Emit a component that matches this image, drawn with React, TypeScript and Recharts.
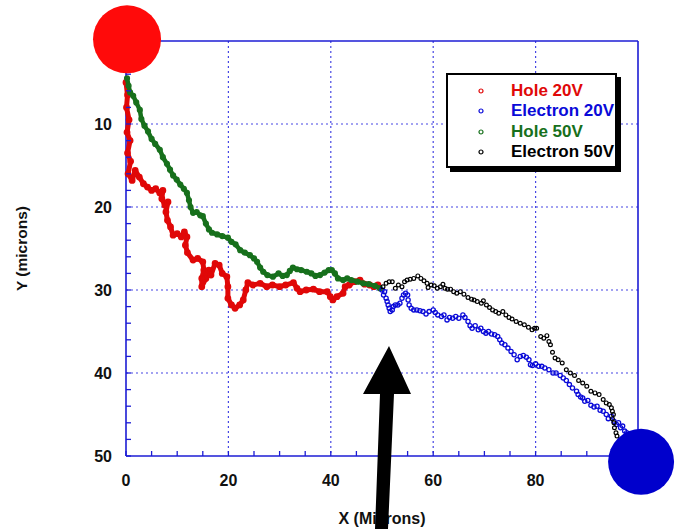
import React from 'react';
import { ScatterChart, Scatter, XAxis, YAxis, CartesianGrid, Label } from 'recharts';

const FONT = '"Liberation Sans", Arial, Helvetica, sans-serif';
const AXIS_BLUE = '#1c1cd4';
const GRID_BLUE = '#4646e4';
const TICK_LEN = 5;

// Axis ticks (minor + major) and labelled values
const xTicks = [0, 5, 10, 15, 20, 25, 30, 35, 40, 45, 50, 55, 60, 65, 70, 75, 80, 85, 90, 95, 100];
const yTicks = [0, 2, 4, 6, 8, 10, 12, 14, 16, 18, 20, 22, 24, 26, 28, 30, 32, 34, 36, 38, 40, 42, 44, 46, 48, 50];
const xLabelTicks = [0, 20, 40, 60, 80];
const yLabelTicks = [10, 20, 30, 40, 50];
const xGridValues = [20, 40, 60, 80];
const yGridValues = [10, 20, 30, 40];
const X_DOMAIN: [number, number] = [0, 100];
const Y_DOMAIN: [number, number] = [0, 50];

// Drift paths, [x, y] in microns
const hole20V: [number, number][] = [
  [0, 5], [0.3, 6.5], [0.1, 8], [0.6, 9.5], [0.2, 11], [0.8, 12], [0.3, 13.5], [0.9, 14.5], [0.4, 16],
  [1.2, 16.8], [1.8, 15.6], [2.6, 16.4], [3.4, 17.2], [4.2, 17.6], [5.0, 18.0], [5.8, 17.8], [6.6, 18.3],
  [7.2, 18.0], [7.0, 19.0], [7.6, 19.8], [8.2, 19.4], [7.8, 20.6], [8.1, 21.6], [8.7, 22.4], [9.2, 23.4],
  [10.0, 23.2], [10.8, 23.6], [11.4, 23.0], [11.9, 23.6], [11.6, 24.6], [12.0, 25.5], [13.1, 26.4],
  [14.0, 26.2], [15.0, 26.6], [15.2, 27.6], [14.8, 28.6], [14.8, 29.6], [15.6, 28.6], [16.2, 27.6],
  [16.6, 28.2], [17.4, 26.8], [18.2, 27.0], [18.8, 28.0], [19.7, 28.4], [19.9, 29.6], [19.9, 31.0],
  [20.6, 31.8], [21.3, 32.2], [22.2, 31.8], [22.9, 31.2], [23.4, 30.0], [23.8, 29.1], [24.8, 29.4],
  [26.2, 29.2], [27.5, 29.6], [28.6, 29.4], [30.0, 29.6], [31.2, 29.4], [32.7, 29.1], [33.4, 29.8],
  [34.0, 30.2], [35.2, 30.0], [36.6, 29.9], [37.8, 30.2], [39.3, 30.2], [39.9, 30.8], [40.4, 31.2],
  [41.2, 30.8], [42.4, 30.4], [42.8, 29.6], [43.6, 29.4], [44.6, 29.0], [45.7, 28.8], [46.6, 29.3],
  [47.6, 29.4], [48.4, 29.6], [49.2, 29.4],
];

const hole50V: [number, number][] = [
  [0.2, 4.5], [0.5, 5.4], [0.8, 6.2], [1.4, 6.6], [2.0, 7.4], [2.7, 8.3], [3.0, 9.4], [3.6, 10.2],
  [4.3, 10.9], [5.0, 11.8], [5.7, 12.4], [6.6, 13.1], [7.2, 14.0], [8.0, 14.8], [8.6, 15.5], [9.2, 16.2],
  [9.9, 16.7], [10.6, 17.3], [11.3, 17.8], [11.9, 18.3], [12.3, 19.2], [12.6, 20.0], [13.1, 20.7],
  [13.8, 20.6], [14.5, 21.0], [15.0, 21.1], [15.6, 22.0], [16.2, 22.7], [16.8, 23.1], [17.8, 23.3],
  [18.8, 23.5], [19.9, 23.7], [20.6, 24.2], [21.4, 24.5], [22.3, 25.2], [23.2, 25.5], [24.2, 25.8],
  [25.0, 26.2], [25.6, 26.6], [26.2, 27.3], [26.8, 27.8], [27.6, 28.2], [28.7, 28.4], [29.8, 28.0],
  [30.6, 28.3], [31.4, 28.2], [32.0, 27.7], [32.6, 27.3], [33.4, 27.5], [34.2, 27.6], [35.3, 27.8],
  [36.2, 28.0], [37.0, 28.3], [37.9, 28.2], [38.8, 27.9], [39.6, 27.6], [40.2, 27.6], [40.8, 28.0],
  [41.4, 28.6], [42.4, 28.8], [43.2, 28.6], [44.0, 28.8], [45.2, 29.0], [46.3, 29.2], [47.4, 29.3],
  [48.6, 29.5], [49.6, 29.8],
];

const electron20V: [number, number][] = [
  [50.0, 30.0], [50.3, 30.6], [50.5, 30.2], [50.8, 31.0], [51.0, 31.4], [51.2, 31.8], [51.4, 32.2],
  [51.6, 32.6], [52.0, 32.4], [52.2, 32.0], [52.6, 31.8], [53.1, 31.8], [53.5, 31.6], [53.9, 31.0],
  [54.2, 30.6], [54.6, 30.4], [55.0, 30.6], [55.1, 31.2], [55.3, 31.8], [55.7, 32.2], [56.2, 32.4],
  [56.8, 32.4], [57.4, 32.5], [58.0, 32.6], [58.6, 32.9], [59.2, 32.6], [60.0, 32.4], [60.4, 32.7],
  [60.9, 33.0], [61.6, 33.2], [62.1, 33.0], [62.7, 33.6], [63.2, 33.3], [63.8, 33.4], [64.4, 33.2],
  [65.0, 33.4], [65.8, 33.0], [66.2, 33.3], [66.8, 33.8], [67.2, 34.3], [67.6, 34.6], [68.2, 34.3],
  [68.8, 34.8], [69.3, 34.6], [69.8, 35.0], [70.3, 35.2], [70.8, 35.0], [71.4, 35.3], [72.0, 35.4],
  [72.6, 35.6], [73.0, 36.0], [73.4, 36.4], [74.0, 36.6], [74.6, 37.0], [75.2, 37.4], [75.8, 37.8],
  [76.4, 38.4], [77.0, 38.0], [77.6, 37.9], [78.2, 38.1], [78.7, 38.4], [79.0, 39.0], [79.4, 39.1],
  [80.0, 38.9], [80.6, 39.2], [81.2, 39.2], [81.8, 39.4], [82.6, 39.6], [83.4, 40.0], [84.0, 40.0],
  [84.8, 40.3], [85.4, 40.6], [86.0, 40.9], [86.6, 41.4], [87.2, 41.8], [88.0, 42.2], [88.3, 42.6],
  [88.8, 42.9], [89.2, 43.0], [89.6, 43.4], [90.2, 43.3], [90.8, 43.9], [91.4, 44.1], [92.0, 44.0],
  [92.6, 44.5], [93.2, 44.6], [93.8, 45.0], [94.2, 45.5], [94.8, 45.2], [95.3, 45.8], [95.8, 46.2],
  [96.2, 46.0], [96.6, 46.6], [97.0, 46.4], [97.4, 47.0], [97.8, 47.2],
];

const electron50V: [number, number][] = [
  [50.2, 29.6], [50.8, 29.2], [51.4, 29.0], [52.0, 29.0], [52.6, 29.8], [53.2, 29.4], [53.9, 29.6],
  [54.4, 29.0], [54.9, 28.8], [55.5, 28.7], [56.2, 28.6], [57.0, 28.3], [57.6, 28.6], [58.2, 28.9],
  [58.8, 29.2], [59.0, 29.7], [59.6, 29.4], [60.2, 29.5], [60.8, 29.8], [61.4, 29.6], [61.9, 29.3],
  [62.3, 29.8], [62.8, 29.9], [63.4, 29.9], [64.0, 30.2], [64.6, 30.4], [65.3, 30.2], [66.0, 30.5],
  [66.8, 30.9], [67.5, 31.1], [68.0, 31.2], [68.6, 31.4], [69.4, 31.6], [69.8, 31.3], [70.4, 31.8],
  [71.0, 32.1], [71.6, 32.4], [72.2, 32.6], [72.8, 32.8], [73.6, 32.6], [74.2, 33.0], [74.8, 33.3],
  [75.4, 33.5], [76.2, 33.8], [77.0, 34.0], [77.8, 34.2], [78.6, 34.5], [79.3, 34.8], [79.8, 34.6],
  [80.2, 34.6], [81.0, 35.6], [81.6, 35.8], [82.2, 35.5], [82.6, 36.2], [82.9, 36.6], [83.3, 37.5],
  [83.8, 38.2], [84.4, 38.4], [85.2, 38.8], [86.0, 39.6], [86.8, 40.0], [87.6, 40.3], [88.4, 40.9],
  [89.2, 41.2], [90.0, 41.6], [90.8, 42.2], [91.6, 42.4], [92.4, 42.6], [93.2, 43.2], [93.8, 43.6],
  [94.4, 43.8], [94.8, 44.2], [95.0, 44.6], [95.2, 45.0], [95.0, 45.5], [95.3, 46.0], [95.4, 46.6],
  [95.7, 47.2], [95.9, 47.6],
];

// Electrodes drawn as large discs: x, y (microns), radius (px), colour
const electrodeX = [0.2, 100.6];
const electrodeY = [-0.2, 50.7];
const electrodeR = [34, 33];
const electrodeColor = ['#ff0a0a', '#0000cc'];

const seriesNames = ['Hole 20V', 'Electron 20V', 'Hole 50V', 'Electron 50V'];
const seriesColors = ['#e00808', '#0a0ad8', '#17701c', '#000000'];

// Canvas and plot frame
const CHART_W = 675;
const CHART_H = 529;
const PLOT = { left: 126, top: 41, right: 638, bottom: 456 };
const Y_AXIS_W = 60;
const X_AXIS_H = 30;

// The disc layer spans the whole canvas, so its domains are the plot domains stretched to the canvas edges
const pxPerX = (PLOT.right - PLOT.left) / (X_DOMAIN[1] - X_DOMAIN[0]);
const pxPerY = (PLOT.bottom - PLOT.top) / (Y_DOMAIN[1] - Y_DOMAIN[0]);
const fullXDomain: [number, number] = [X_DOMAIN[0] - PLOT.left / pxPerX, X_DOMAIN[0] + (CHART_W - PLOT.left) / pxPerX];
const fullYDomain: [number, number] = [Y_DOMAIN[0] - PLOT.top / pxPerY, Y_DOMAIN[0] + (CHART_H - PLOT.top) / pxPerY];

const toPoints = (arr: [number, number][]) => arr.map(([x, y]) => ({ x, y }));
const electrodePoints = electrodeX.map((x, i) => ({ x, y: electrodeY[i], r: electrodeR[i], c: electrodeColor[i] }));

const BottomTick = (props: any) => {
  const { x, y, payload } = props;
  const v = payload.value;
  return (
    <g>
      <line x1={x} y1={y} x2={x} y2={y - TICK_LEN} stroke={AXIS_BLUE} strokeWidth={1.3} />
      {xLabelTicks.includes(v) && (
        <text x={x} y={y + 30} textAnchor="middle" fontFamily={FONT} fontWeight="bold" fontSize={16} fill="#111">
          {v}
        </text>
      )}
    </g>
  );
};

const TopTick = (props: any) => {
  const { x, y } = props;
  return <line x1={x} y1={y} x2={x} y2={y + TICK_LEN} stroke={AXIS_BLUE} strokeWidth={1.3} />;
};

const LeftTick = (props: any) => {
  const { x, y, payload } = props;
  const v = payload.value;
  return (
    <g>
      <line x1={x} y1={y} x2={x + TICK_LEN} y2={y} stroke={AXIS_BLUE} strokeWidth={1.3} />
      {yLabelTicks.includes(v) && (
        <text x={x - 14} y={y + 6} textAnchor="end" fontFamily={FONT} fontWeight="bold" fontSize={16} fill="#111">
          {v}
        </text>
      )}
    </g>
  );
};

const RightTick = (props: any) => {
  const { x, y } = props;
  return <line x1={x} y1={y} x2={x - TICK_LEN} y2={y} stroke={AXIS_BLUE} strokeWidth={1.3} />;
};

const openCircle = (color: string, r: number, w: number) => (props: any) => (
  <circle cx={props.cx} cy={props.cy} r={r} fill="none" stroke={color} strokeWidth={w} />
);

const disc = (props: any) => (
  <circle cx={props.cx} cy={props.cy} r={props.payload.r} fill={props.payload.c} stroke="none" />
);

export default function App() {
  return (
    <div style={{ position: 'absolute', left: 0, top: 0, width: CHART_W, height: CHART_H, background: '#fff' }}>
      <ScatterChart
        width={CHART_W}
        height={CHART_H}
        margin={{
          top: PLOT.top - 1,
          right: CHART_W - PLOT.right - 1,
          bottom: CHART_H - PLOT.bottom - X_AXIS_H,
          left: PLOT.left - Y_AXIS_W,
        }}
      >
        <CartesianGrid
          stroke={GRID_BLUE}
          strokeDasharray="2 3"
          strokeWidth={1.2}
          horizontalValues={yGridValues}
          verticalValues={xGridValues}
        />
        <XAxis
          dataKey="x"
          type="number"
          domain={X_DOMAIN}
          ticks={xTicks}
          interval={0}
          height={X_AXIS_H}
          tickSize={0}
          tickMargin={0}
          tick={BottomTick}
          axisLine={{ stroke: AXIS_BLUE, strokeWidth: 1.6 }}
        >
          <Label
            content={(p: any) => {
              const vb = p.viewBox;
              return (
                <text x={vb.x + vb.width / 2} y={vb.y + 68} textAnchor="middle" fontFamily={FONT} fontWeight="bold" fontSize={16} fill="#111">
                  X (Microns)
                </text>
              );
            }}
          />
        </XAxis>
        <XAxis
          xAxisId="top"
          orientation="top"
          type="number"
          domain={X_DOMAIN}
          ticks={xTicks}
          interval={0}
          height={1}
          tickSize={0}
          tickMargin={0}
          tick={TopTick}
          axisLine={{ stroke: AXIS_BLUE, strokeWidth: 1.6 }}
        />
        <YAxis
          dataKey="y"
          type="number"
          domain={Y_DOMAIN}
          reversed
          ticks={yTicks}
          interval={0}
          width={Y_AXIS_W}
          tickSize={0}
          tickMargin={0}
          tick={LeftTick}
          axisLine={{ stroke: AXIS_BLUE, strokeWidth: 1.6 }}
        >
          <Label
            content={(p: any) => {
              const vb = p.viewBox;
              const cx = vb.x - 45;
              const cy = vb.y + vb.height / 2;
              return (
                <text
                  transform={`translate(${cx},${cy}) rotate(-90)`}
                  textAnchor="middle"
                  dominantBaseline="central"
                  fontFamily={FONT}
                  fontWeight="bold"
                  fontSize={15.5}
                  fill="#111"
                >
                  Y (microns)
                </text>
              );
            }}
          />
        </YAxis>
        <YAxis
          yAxisId="right"
          orientation="right"
          type="number"
          domain={Y_DOMAIN}
          reversed
          ticks={yTicks}
          interval={0}
          width={1}
          tickSize={0}
          tickMargin={0}
          tick={RightTick}
          axisLine={{ stroke: AXIS_BLUE, strokeWidth: 1.6 }}
        />
        <Scatter
          name={seriesNames[0]}
          data={toPoints(hole20V)}
          fill={seriesColors[0]}
          line={{ stroke: seriesColors[0], strokeWidth: 5, strokeLinejoin: 'round', strokeLinecap: 'round' }}
          shape={openCircle(seriesColors[0], 2.6, 1.6)}
          isAnimationActive={false}
        />
        <Scatter
          name={seriesNames[2]}
          data={toPoints(hole50V)}
          fill={seriesColors[2]}
          line={{ stroke: seriesColors[2], strokeWidth: 4.5, strokeLinejoin: 'round', strokeLinecap: 'round' }}
          shape={openCircle(seriesColors[2], 2.4, 1.4)}
          isAnimationActive={false}
        />
        <Scatter
          name={seriesNames[1]}
          data={toPoints(electron20V)}
          fill={seriesColors[1]}
          shape={openCircle(seriesColors[1], 2.1, 1.3)}
          isAnimationActive={false}
        />
        <Scatter
          name={seriesNames[3]}
          data={toPoints(electron50V)}
          fill={seriesColors[3]}
          shape={openCircle(seriesColors[3], 1.9, 1.2)}
          isAnimationActive={false}
        />
      </ScatterChart>

      {/* electrode discs, layered above the axis frame */}
      <div style={{ position: 'absolute', left: 0, top: 0, pointerEvents: 'none' }}>
        <ScatterChart width={CHART_W} height={CHART_H} margin={{ top: 0, right: 0, bottom: 0, left: 0 }}>
          <XAxis dataKey="x" type="number" domain={fullXDomain} hide />
          <YAxis dataKey="y" type="number" domain={fullYDomain} reversed hide />
          <Scatter data={electrodePoints} shape={disc} isAnimationActive={false} />
        </ScatterChart>
      </div>

      {/* legend box */}
      <div
        style={{
          position: 'absolute',
          left: 446,
          top: 73,
          width: 171,
          height: 95,
          border: '2px solid #000',
          boxShadow: '4px 4px 0 #000',
          background: '#fff',
          boxSizing: 'border-box',
          fontFamily: FONT,
          fontWeight: 'bold',
          fontSize: 17,
        }}
      >
        {seriesNames.map((name, i) => (
          <div
            key={name}
            style={{ position: 'absolute', left: 0, top: 6 + i * 20.3, height: 20, lineHeight: '20px', width: '100%' }}
          >
            <svg width={8} height={8} style={{ position: 'absolute', left: 29, top: 6 }}>
              <circle cx={4} cy={4} r={2} fill="none" stroke={seriesColors[i]} strokeWidth={1.2} />
            </svg>
            <span style={{ position: 'absolute', left: 63, top: 0, color: seriesColors[i], whiteSpace: 'nowrap' }}>{name}</span>
          </div>
        ))}
      </div>

      {/* pointer arrow */}
      <svg width={CHART_W} height={CHART_H} style={{ position: 'absolute', left: 0, top: 0, pointerEvents: 'none' }}>
        <polygon points="389,346 411,394 394,394 388,529 375,529 380,394 363,394" fill="#000" />
      </svg>
    </div>
  );
}
